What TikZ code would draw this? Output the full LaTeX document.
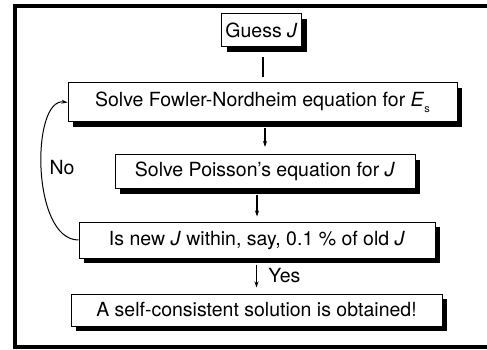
\documentclass[tikz,border=0pt]{standalone}
\usepackage{fontspec}
\setmainfont{TeX Gyre Heros}
\usepackage{tikz}
\usetikzlibrary{shadows}
\usetikzlibrary{arrows.meta}
\tikzstyle{Step}=[draw=black,fill=white,line width=1pt,inner sep=0pt,
drop shadow={shadow xshift=5pt,shadow yshift=-5pt,fill=black,opacity=1},
font=\fontsize{19.5}{22}\selectfont]
\tikzstyle{Flow}=[draw=black,line width=1.3pt,-{Stealth[length=6pt,width=4pt]}]
\tikzstyle{Loop}=[draw=black,line width=1pt,-{Stealth[length=6pt,width=4pt]}]
\tikzstyle{Label}=[font=\fontsize{19.5}{22}\selectfont]
\newcommand{\Jcur}{\textit{J}}

\begin{document}
\begin{tikzpicture}[x=1pt,y=-1pt]
        \useasboundingbox (0,0) rectangle (487,350);
        \draw[line width=3.5pt] (487,6)--(15,6)--(15,347)--(487,347);
        \node[Step,minimum width=80pt,minimum height=33pt](guess)at(261.5,30.5){Guess \Jcur};
        \node[Step,minimum width=389pt,minimum height=39pt](fn)at(262.5,102.5){Solve Fowler-Nordheim equation for \textit{E}\raisebox{-0.6ex}{\fontsize{11}{12}\selectfont s}};
        \node[Step,minimum width=300pt,minimum height=34pt](poisson)at(265,171.5){Solve Poisson's equation for \Jcur};
        \node[Step,minimum width=356pt,minimum height=36pt](check)at(257,240){Is new \Jcur\ within, say, 0.1 \% of old \Jcur};
        \node[Step,minimum width=371pt,minimum height=32pt](done)at(256.5,310){A self-consistent solution is obtained!};
        \draw[line width=2pt,shorten <=10pt,shorten >=5pt](guess.south-|fn.north)--(fn.north);
        \draw[Flow,shorten <=6pt,shorten >=7pt](fn.south-|poisson.north)--(poisson.north);
        \draw[Flow,shorten <=6pt,shorten >=5pt](poisson.south-|check.north)--(check.north);
        \draw[Flow,shorten <=6pt,shorten >=6pt](check.south-|done.north)--node[Label,right=8pt]{Yes}(done.north);
        \draw[Loop](check.west)..controls(31,240)and(31,97)..(fn.west);
        \node[Label](no)at(62,168){No};
    \end{tikzpicture}
\end{document}
